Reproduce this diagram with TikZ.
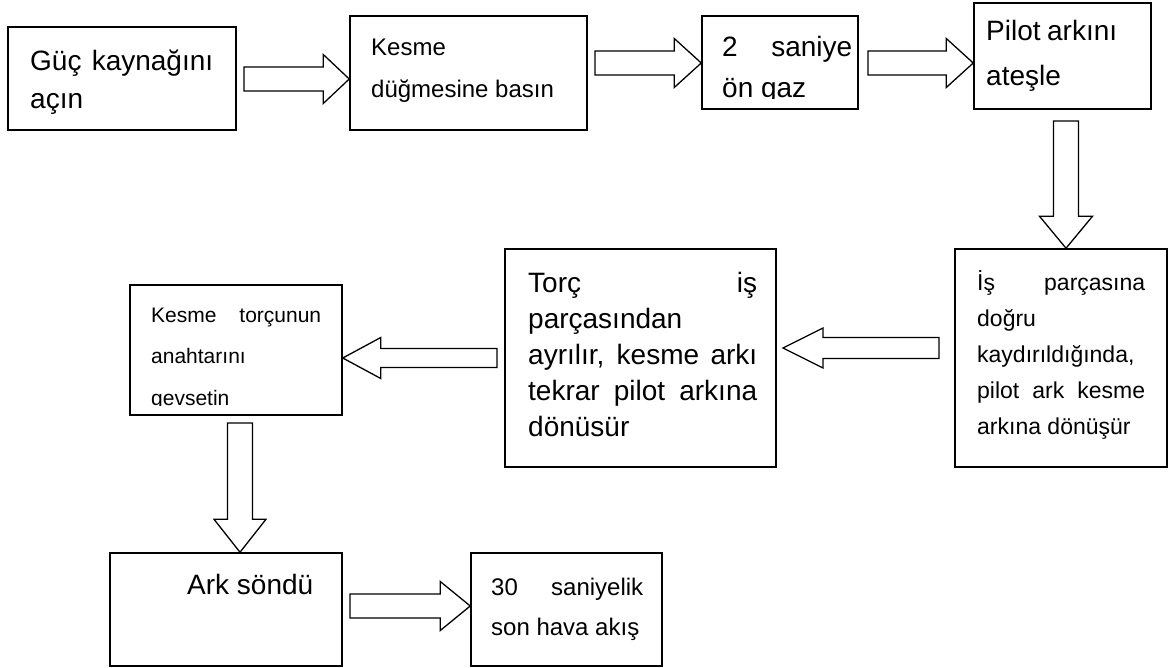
\documentclass[tikz,border=0pt]{standalone}
\usepackage{fontspec}
\setmainfont{Liberation Sans}
\usetikzlibrary{calc}

% hollow block arrow: from, to, shaft half width, head half width, head length
\newcommand{\fatarrow}[5]{%
  \coordinate (fa) at ($(#2)!#5!(#1)$);
  \draw[fat] ($(#1)!#3!90:(#2)$) -- ($(fa)!#3!-90:(#1)$) -- ($(fa)!#4!-90:(#1)$) -- (#2)
    -- ($(fa)!#4!90:(#1)$) -- ($(fa)!#3!90:(#1)$) -- ($(#1)!#3!-90:(#2)$) -- cycle;}

\begin{document}
\begin{tikzpicture}[x=1pt,y=-1pt]
	\tikzstyle{box}=[draw=black, line width=1.5pt, inner sep=0pt]
	\tikzstyle{txt}=[anchor=base west, inner sep=0pt, align=left]
	\tikzstyle{fat}=[draw=black, fill=white, line width=1.3pt, line join=miter]

	\useasboundingbox (0,0) rectangle (1170,668);

	% boxes
	\node [box, minimum width=228pt, minimum height=103pt] (b1) at (122,78.5) {};
	\node [box, minimum width=237pt, minimum height=114pt] (b2) at (468.5,73) {};
	\node [box, minimum width=156pt, minimum height=93pt] (b3) at (780,62.5) {};
	\node [box, minimum width=177pt, minimum height=106pt] (b4) at (1062.5,56) {};
	\node [box, minimum width=212pt, minimum height=218pt] (b5) at (1061,358) {};
	\node [box, minimum width=271pt, minimum height=218pt] (b6) at (640.5,358) {};
	\node [box, minimum width=212pt, minimum height=130pt] (b7) at (236,350) {};
	\node [box, minimum width=232pt, minimum height=113pt] (b8) at (226,609.5) {};
	\node [box, minimum width=191pt, minimum height=113pt] (b9) at (566.5,609.5) {};

	% texts (placed at the baseline of the last line)
	\node [txt, font=\fontsize{28}{38}\selectfont] (t1) at (30,109)
		{\makebox[183pt][s]{Güç kaynağını}\\açın};
	\node [txt, font=\fontsize{24}{42}\selectfont] (t2) at (371,98)
		{Kesme\\düğmesine basın};
	\begin{scope}
		\clip (b3.north west) rectangle (b3.east |- 0,98.5);
		\node [txt, font=\fontsize{28}{41}\selectfont] (t3) at (722,98)
			{\makebox[130pt][s]{2 saniye}\\ön gaz};
	\end{scope}
	\node [txt, font=\fontsize{28}{45}\selectfont] (t4) at (986,86)
		{\makebox[131pt][s]{Pilot arkını}\\ateşle};
	\node [txt, font=\fontsize{23}{36}\selectfont] (t5) at (977,434)
		{\makebox[168pt][s]{İş parçasına}\\doğru\\kaydırıldığında,\\\makebox[168pt][s]{pilot ark kesme}\\arkına dönüşür};
	\node [txt, font=\fontsize{28}{36}\selectfont] (t6) at (528,436)
		{\makebox[229pt][s]{Torç iş}\\parçasından\\\makebox[229pt][s]{ayrılır, kesme arkı}\\\makebox[229pt][s]{tekrar pilot arkına}\\dönüsür};
	\begin{scope}
		\clip (b7.north west) rectangle (b7.east |- 0,405.5);
		\node [txt, font=\fontsize{21}{41.5}\selectfont] (t7) at (151,405)
			{\makebox[170pt][s]{Kesme torçunun}\\anahtarını\\gevsetin};
	\end{scope}
	\node [txt, font=\fontsize{28}{34}\selectfont] (t8) at (187,594) {Ark söndü};
	\node [txt, font=\fontsize{24}{40}\selectfont] (t9) at (491,635)
		{\makebox[152pt][s]{30 saniyelik}\\son hava akış};

	% arrows
	\coordinate (a1s) at (244,79);
	\coordinate (a2s) at (595,63);
	\coordinate (a3s) at (868,63);
	\coordinate (a4s) at (1066,121);
	\coordinate (a5s) at (939,348);
	\coordinate (a5e) at (783,348);
	\coordinate (a6s) at (497,358);
	\coordinate (a7s) at (240,423);
	\coordinate (a8s) at (350,606);

	\fatarrow{a1s}{b2.west |- a1s}{12pt}{24.5pt}{26pt}
	\fatarrow{a2s}{b3.west |- a2s}{12pt}{24.5pt}{27pt}
	\fatarrow{a3s}{b4.west |- a3s}{12pt}{24.5pt}{27pt}
	\fatarrow{a4s}{a4s |- b5.north}{12.5pt}{26.5pt}{32pt}
	\fatarrow{a5s}{a5e}{10.5pt}{20pt}{40pt}
	\fatarrow{a6s}{b7.east |- a6s}{9.5pt}{20.5pt}{38pt}
	\fatarrow{a7s}{a7s |- b8.north}{12.5pt}{26pt}{33pt}
	\fatarrow{a8s}{b9.west |- a8s}{12pt}{24.5pt}{30pt}

\end{tikzpicture}
\end{document}
